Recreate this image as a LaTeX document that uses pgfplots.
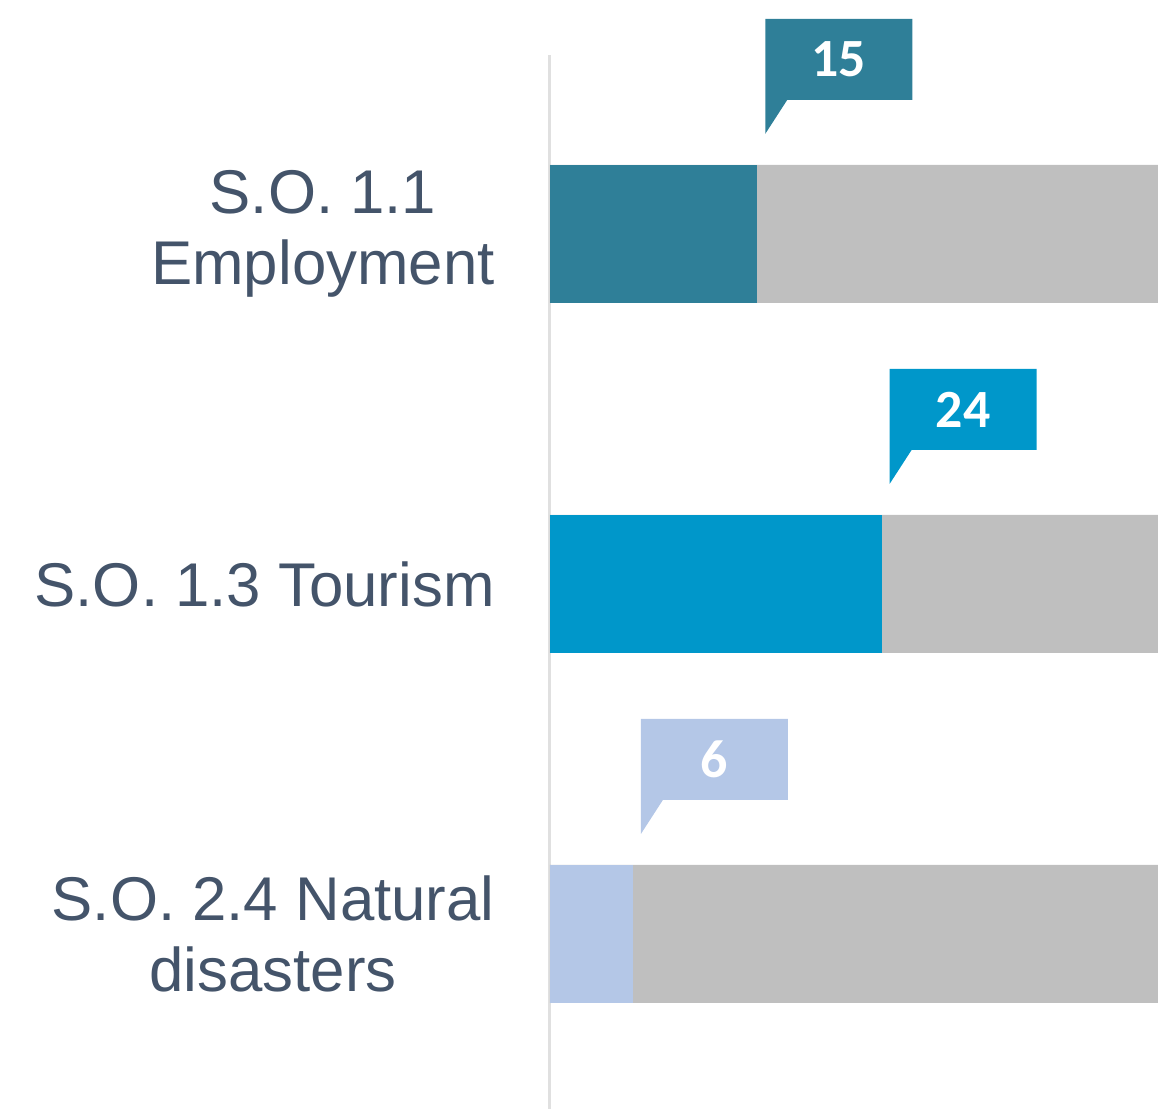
\documentclass[border=0pt]{standalone}
\usepackage{pgfplots}
\pgfplotsset{compat=1.18}
\usepackage{fontspec}
\setmainfont{Liberation Sans}
\newfontfamily\callfont{Carlito}

\definecolor{lab}{HTML}{44546A}
\definecolor{cA}{HTML}{2F7F98}
\definecolor{cB}{HTML}{0097CA}
\definecolor{cC}{HTML}{B4C7E7}
\definecolor{rest}{HTML}{BFBFBF}

% callout at named coordinate #1 (end of bar), text #2, colour #3
\newcommand{\callout}[3]{%
  \fill[#3] ([xshift=4bp,yshift=50bp]#1) -- ([xshift=4bp,yshift=107.5bp]#1)
    -- ([xshift=77.5bp,yshift=107.5bp]#1) -- ([xshift=77.5bp,yshift=67bp]#1)
    -- ([xshift=15bp,yshift=67bp]#1) -- cycle;
  \node[text=white, font=\callfont\bfseries\fontsize{27}{30}\selectfont]
    at ([xshift=40.75bp,yshift=87.25bp]#1) {#2};
}

\begin{document}
\begin{tikzpicture}
\useasboundingbox (-275bp,0) rectangle (304bp,554.5bp);
\begin{axis}[
    scale only axis,
    width=304bp, height=527bp,
    xbar, bar shift=0pt,
    bar width=69bp,
    xmin=0, xmax=44,
    ymin=-0.511, ymax=2.5,
    y dir=reverse,
    axis x line=none,
    axis y line=left,
    y axis line style={-, draw=black!12, line width=1.5bp},
    ytick={0,1,2},
    yticklabels={{S.O. 1.1\\Employment},{S.O. 1.3 Tourism},{S.O. 2.4 Natural\\disasters}},
    major tick length=0,
    yticklabel style={align=center, anchor=east, inner sep=0pt, xshift=-27.5bp,
        text=lab, font=\fontsize{31}{36}\selectfont},
]
\addplot[draw=none, fill=rest] coordinates {(44,0) (44,1) (44,2)};
\addplot[draw=none, fill=cA] coordinates {(15,0)};
\addplot[draw=none, fill=cB] coordinates {(24,1)};
\addplot[draw=none, fill=cC] coordinates {(6,2)};
\coordinate (e1) at (axis cs:15,0);
\coordinate (e2) at (axis cs:24,1);
\coordinate (e3) at (axis cs:6,2);
\end{axis}
\callout{e1}{15}{cA}
\callout{e2}{24}{cB}
\callout{e3}{6}{cC}
\end{tikzpicture}
\end{document}
